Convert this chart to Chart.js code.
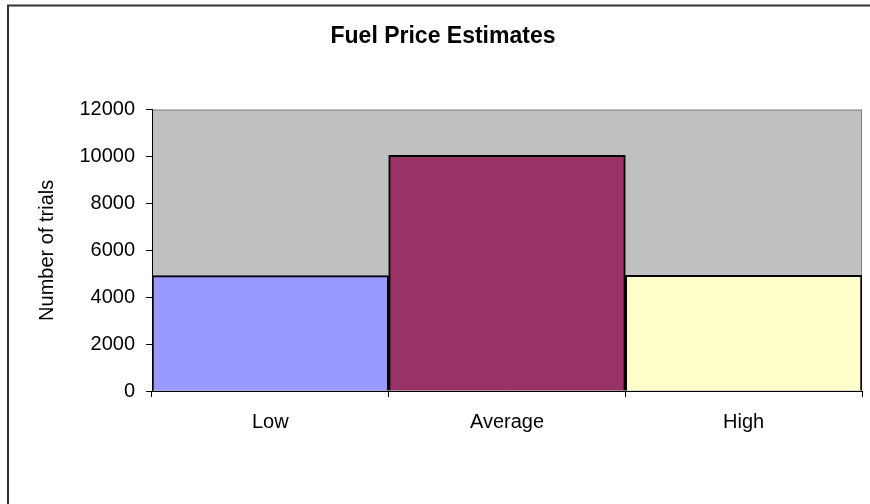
<!DOCTYPE html>
<html>
<head>
<meta charset="utf-8">
<script src="https://cdn.jsdelivr.net/npm/chart.js"></script>
<style>
body{ margin:0; background:#fff; }
#wrap{ width:870px; height:504px; }
</style>
</head>
<body>
<div id="wrap"><canvas id="fuelChart" width="870" height="504"></canvas></div>
<script>
// data
var categories = ["Low", "Average", "High"];
var trials = [4920, 10050, 4930];
var barColors = ["#9999FF", "#993366", "#FFFFCC"];
var yMax = 12000;
var yStep = 2000;

// grey plot area + outer frame
var plotBack = {
    id: "plotBack",
    beforeDraw: function (chart) {
        var c = chart.ctx, a = chart.chartArea;
        c.save();
        c.fillStyle = "#C0C0C0";
        c.fillRect(a.left, a.top, a.right - a.left, a.bottom - a.top);
        c.strokeStyle = "#808080";
        c.lineWidth = 1;
        c.strokeRect(a.left + 0.5, a.top + 0.5, a.right - a.left - 1, a.bottom - a.top);
        c.strokeStyle = "#333";
        c.lineWidth = 2;
        c.beginPath();
        c.moveTo(8, 504);
        c.lineTo(8, 5.5);
        c.lineTo(870, 5.5);
        c.stroke();
        c.restore();
    }
};

new Chart(document.getElementById("fuelChart"), {
    type: "bar",
    data: {
        labels: categories,
        datasets: [{
            label: "Number of trials",
            data: trials,
            backgroundColor: barColors,
            borderColor: "#000",
            borderWidth: 2,
            barPercentage: 1,
            categoryPercentage: 1
        }]
    },
    options: {
        responsive: false,
        animation: false,
        layout: { padding: { left: 24, right: 8, top: 0, bottom: 0 } },
        plugins: {
            legend: { display: false },
            tooltip: { enabled: false },
            title: {
                display: true,
                text: "Fuel Price Estimates",
                color: "#000",
                font: { family: "Liberation Sans, Arial", size: 23, weight: "bold" },
                padding: { top: 23, bottom: 59 }
            }
        },
        scales: {
            x: {
                grid: { drawOnChartArea: false, drawTicks: true, tickLength: 6, color: "#000" },
                border: { display: true, color: "#000", width: 1 },
                ticks: {
                    color: "#000",
                    padding: 13,
                    font: { family: "Liberation Sans, Arial", size: 20 }
                },
                afterFit: function (s) { s.height = 113; }
            },
            y: {
                min: 0,
                max: yMax,
                grid: { drawOnChartArea: false, drawTicks: true, tickLength: 6, color: "#000" },
                border: { display: true, color: "#000", width: 1 },
                ticks: {
                    stepSize: yStep,
                    color: "#000",
                    padding: 11,
                    font: { family: "Liberation Sans, Arial", size: 20 },
                    callback: function (v) { return String(v); }
                },
                title: {
                    display: true,
                    text: "Number of trials",
                    color: "#000",
                    padding: { top: 11, bottom: 0 },
                    font: { family: "Liberation Sans, Arial", size: 20 }
                },
                afterFit: function (s) { s.width = 128; }
            }
        }
    },
    plugins: [plotBack]
});
</script>
</body>
</html>
